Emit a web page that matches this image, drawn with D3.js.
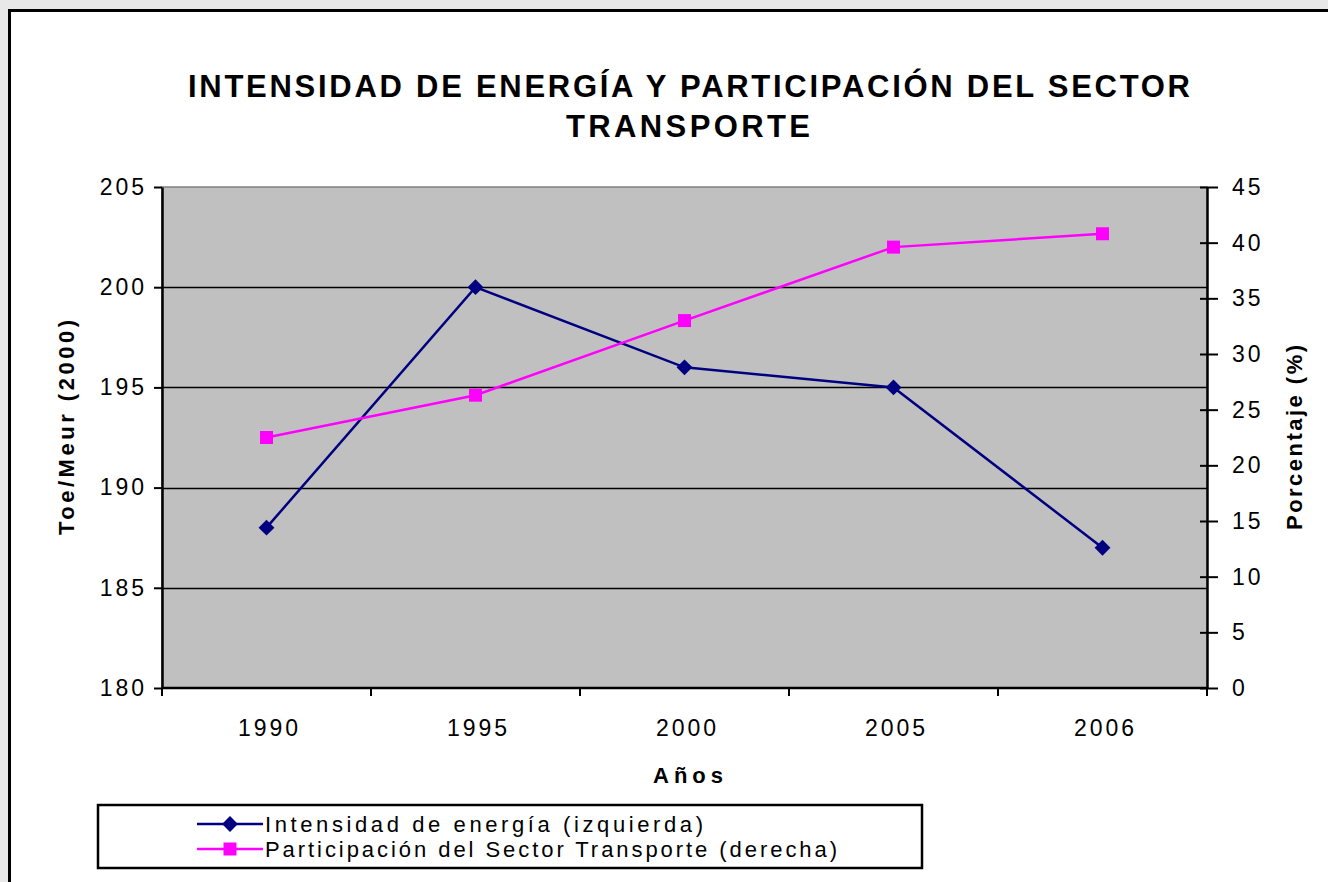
<!DOCTYPE html>
<html>
<head>
<meta charset="utf-8">
<script src="https://cdn.jsdelivr.net/npm/d3@7"></script>
<style>
  body { margin: 0; background: #e8e8e8; }
  text { font-family: "Liberation Sans", Arial, sans-serif; }
</style>
</head>
<body>
<div class="chart"></div>
<script>
const years = ['1990', '1995', '2000', '2005', '2006'];
const intensidad = [188, 200, 196, 195, 187];
const participacion = [22.5, 26.3, 33.0, 39.6, 40.8];
const leftTicks = [180, 185, 190, 195, 200, 205];
const rightTicks = [0, 5, 10, 15, 20, 25, 30, 35, 40, 45];
const legendLabels = ['Intensidad de energía (izquierda)', 'Participación del Sector Transporte (derecha)'];

const width = 1328, height = 882;
const svg = d3.select('.chart').append('svg').attr('width', width).attr('height', height);

// outer frame
svg.append('rect').attr('x', 0).attr('y', 0).attr('width', width).attr('height', height).attr('fill', '#e8e8e8');
svg.append('rect').attr('x', 9.5).attr('y', 10.5).attr('width', 1340).attr('height', 900)
  .attr('fill', '#fff').attr('stroke', '#000').attr('stroke-width', 3);

const pLeft = 162, pRight = 1207, pTop = 187, pBottom = 688;

const x = d3.scaleBand().domain(years).range([pLeft, pRight]);
const yL = d3.scaleLinear().domain([180, 205]).range([pBottom, pTop]);
const yR = d3.scaleLinear().domain([0, 45]).range([pBottom, pTop]);

// plot area
svg.append('rect').attr('x', pLeft).attr('y', pTop).attr('width', pRight - pLeft).attr('height', pBottom - pTop)
  .attr('fill', '#c0c0c0').attr('stroke', '#808080').attr('stroke-width', 1.5);

// gridlines
svg.append('g').selectAll('line').data(leftTicks.slice(1, -1)).enter().append('line')
  .attr('x1', pLeft).attr('x2', pRight)
  .attr('y1', d => Math.round(yL(d)) + 0.5).attr('y2', d => Math.round(yL(d)) + 0.5)
  .attr('stroke', '#000').attr('stroke-width', 1.5);

// left axis
const gL = svg.append('g').attr('transform', `translate(${pLeft},0)`)
  .call(d3.axisLeft(yL).tickValues(leftTicks).tickSize(8).tickPadding(7).tickSizeOuter(0));
gL.select('.domain').attr('stroke-width', 2.5);
gL.selectAll('.tick line').attr('stroke-width', 2);
gL.selectAll('text').attr('font-size', 23).attr('letter-spacing', 3).attr('fill', '#000');

// right axis with crossing ticks
const gR = svg.append('g').attr('transform', `translate(${pRight},0)`)
  .call(d3.axisRight(yR).tickValues(rightTicks).tickSize(11).tickPadding(14).tickSizeOuter(0));
gR.select('.domain').attr('stroke-width', 2.5);
gR.selectAll('.tick line').attr('x1', -7).attr('stroke-width', 2);
gR.selectAll('text').attr('font-size', 23).attr('letter-spacing', 3).attr('fill', '#000');

// bottom axis: ticks at category boundaries
const gB = svg.append('g').attr('transform', `translate(0,${pBottom})`);
gB.append('line').attr('x1', pLeft).attr('x2', pRight).attr('y1', 0).attr('y2', 0)
  .attr('stroke', '#000').attr('stroke-width', 2.5);
const bounds = years.map(d => x(d)).concat([pRight]);
gB.selectAll('.bt').data(bounds).enter().append('line').attr('class', 'bt')
  .attr('x1', d => d).attr('x2', d => d).attr('y1', 0).attr('y2', 8)
  .attr('stroke', '#000').attr('stroke-width', 2);
gB.selectAll('.bl').data(years).enter().append('text').attr('class', 'bl')
  .attr('x', d => x(d) + x.bandwidth() / 2 + 3).attr('y', 48)
  .attr('text-anchor', 'middle').attr('font-size', 23).attr('letter-spacing', 3).text(d => d);

// lines
const cx = d => x(d) + x.bandwidth() / 2;
svg.append('path').datum(intensidad)
  .attr('d', d3.line().x((d, i) => cx(years[i])).y(d => yL(d)))
  .attr('fill', 'none').attr('stroke', '#000080').attr('stroke-width', 2.5);
svg.append('path').datum(participacion)
  .attr('d', d3.line().x((d, i) => cx(years[i])).y(d => yR(d)))
  .attr('fill', 'none').attr('stroke', '#ff00ff').attr('stroke-width', 2.5);

const diamond = d3.symbol().type(d3.symbolDiamond2).size(160);
svg.selectAll('.dm').data(intensidad).enter().append('path').attr('class', 'dm')
  .attr('d', diamond)
  .attr('transform', (d, i) => `translate(${cx(years[i])},${yL(d)})`)
  .attr('fill', '#000080');
svg.selectAll('.sq').data(participacion).enter().append('rect').attr('class', 'sq')
  .attr('x', (d, i) => cx(years[i]) - 6.5).attr('y', d => yR(d) - 6.5)
  .attr('width', 13).attr('height', 13).attr('fill', '#ff00ff');

// title
const title = svg.append('text').attr('font-size', 31).attr('font-weight', 'bold');
title.append('tspan').attr('x', 188).attr('y', 97).attr('textLength', 1002).attr('lengthAdjust', 'spacing')
  .text('INTENSIDAD DE ENERGÍA Y PARTICIPACIÓN DEL SECTOR');
title.append('tspan').attr('x', 566).attr('y', 137).attr('textLength', 244).attr('lengthAdjust', 'spacing')
  .text('TRANSPORTE');

// axis titles
svg.append('text').attr('x', 653).attr('y', 783).attr('textLength', 70).attr('lengthAdjust', 'spacing')
  .attr('font-size', 22).attr('font-weight', 'bold').text('Años');
svg.append('text').attr('transform', 'translate(74,535) rotate(-90)').attr('textLength', 215).attr('lengthAdjust', 'spacing')
  .attr('font-size', 22).attr('font-weight', 'bold').text('Toe/Meur (2000)');
svg.append('text').attr('transform', 'translate(1302,530) rotate(-90)').attr('textLength', 185).attr('lengthAdjust', 'spacing')
  .attr('font-size', 22).attr('font-weight', 'bold').text('Porcentaje (%)');

// legend
const lg = svg.append('g');
lg.append('rect').attr('x', 98).attr('y', 805).attr('width', 824).attr('height', 63)
  .attr('fill', '#fff').attr('stroke', '#000').attr('stroke-width', 2.5);
const legendColors = ['#000080', '#ff00ff'];
const legendWidths = [438, 572];
const item = lg.selectAll('.li').data(legendLabels).enter().append('g').attr('class', 'li')
  .attr('transform', (d, i) => `translate(0,${824 + i * 25})`);
item.append('line').attr('x1', 197).attr('x2', 263).attr('y1', 0).attr('y2', 0)
  .attr('stroke', (d, i) => legendColors[i]).attr('stroke-width', 2.5);
item.filter((d, i) => i === 0).append('path').attr('d', diamond).attr('transform', 'translate(230,0)').attr('fill', legendColors[0]);
item.filter((d, i) => i === 1).append('rect').attr('x', 223.5).attr('y', -6.5).attr('width', 13).attr('height', 13).attr('fill', legendColors[1]);
item.append('text').attr('x', 265).attr('y', 8).attr('font-size', 22)
  .attr('textLength', (d, i) => legendWidths[i]).attr('lengthAdjust', 'spacing').text(d => d);
</script>
</body>
</html>
